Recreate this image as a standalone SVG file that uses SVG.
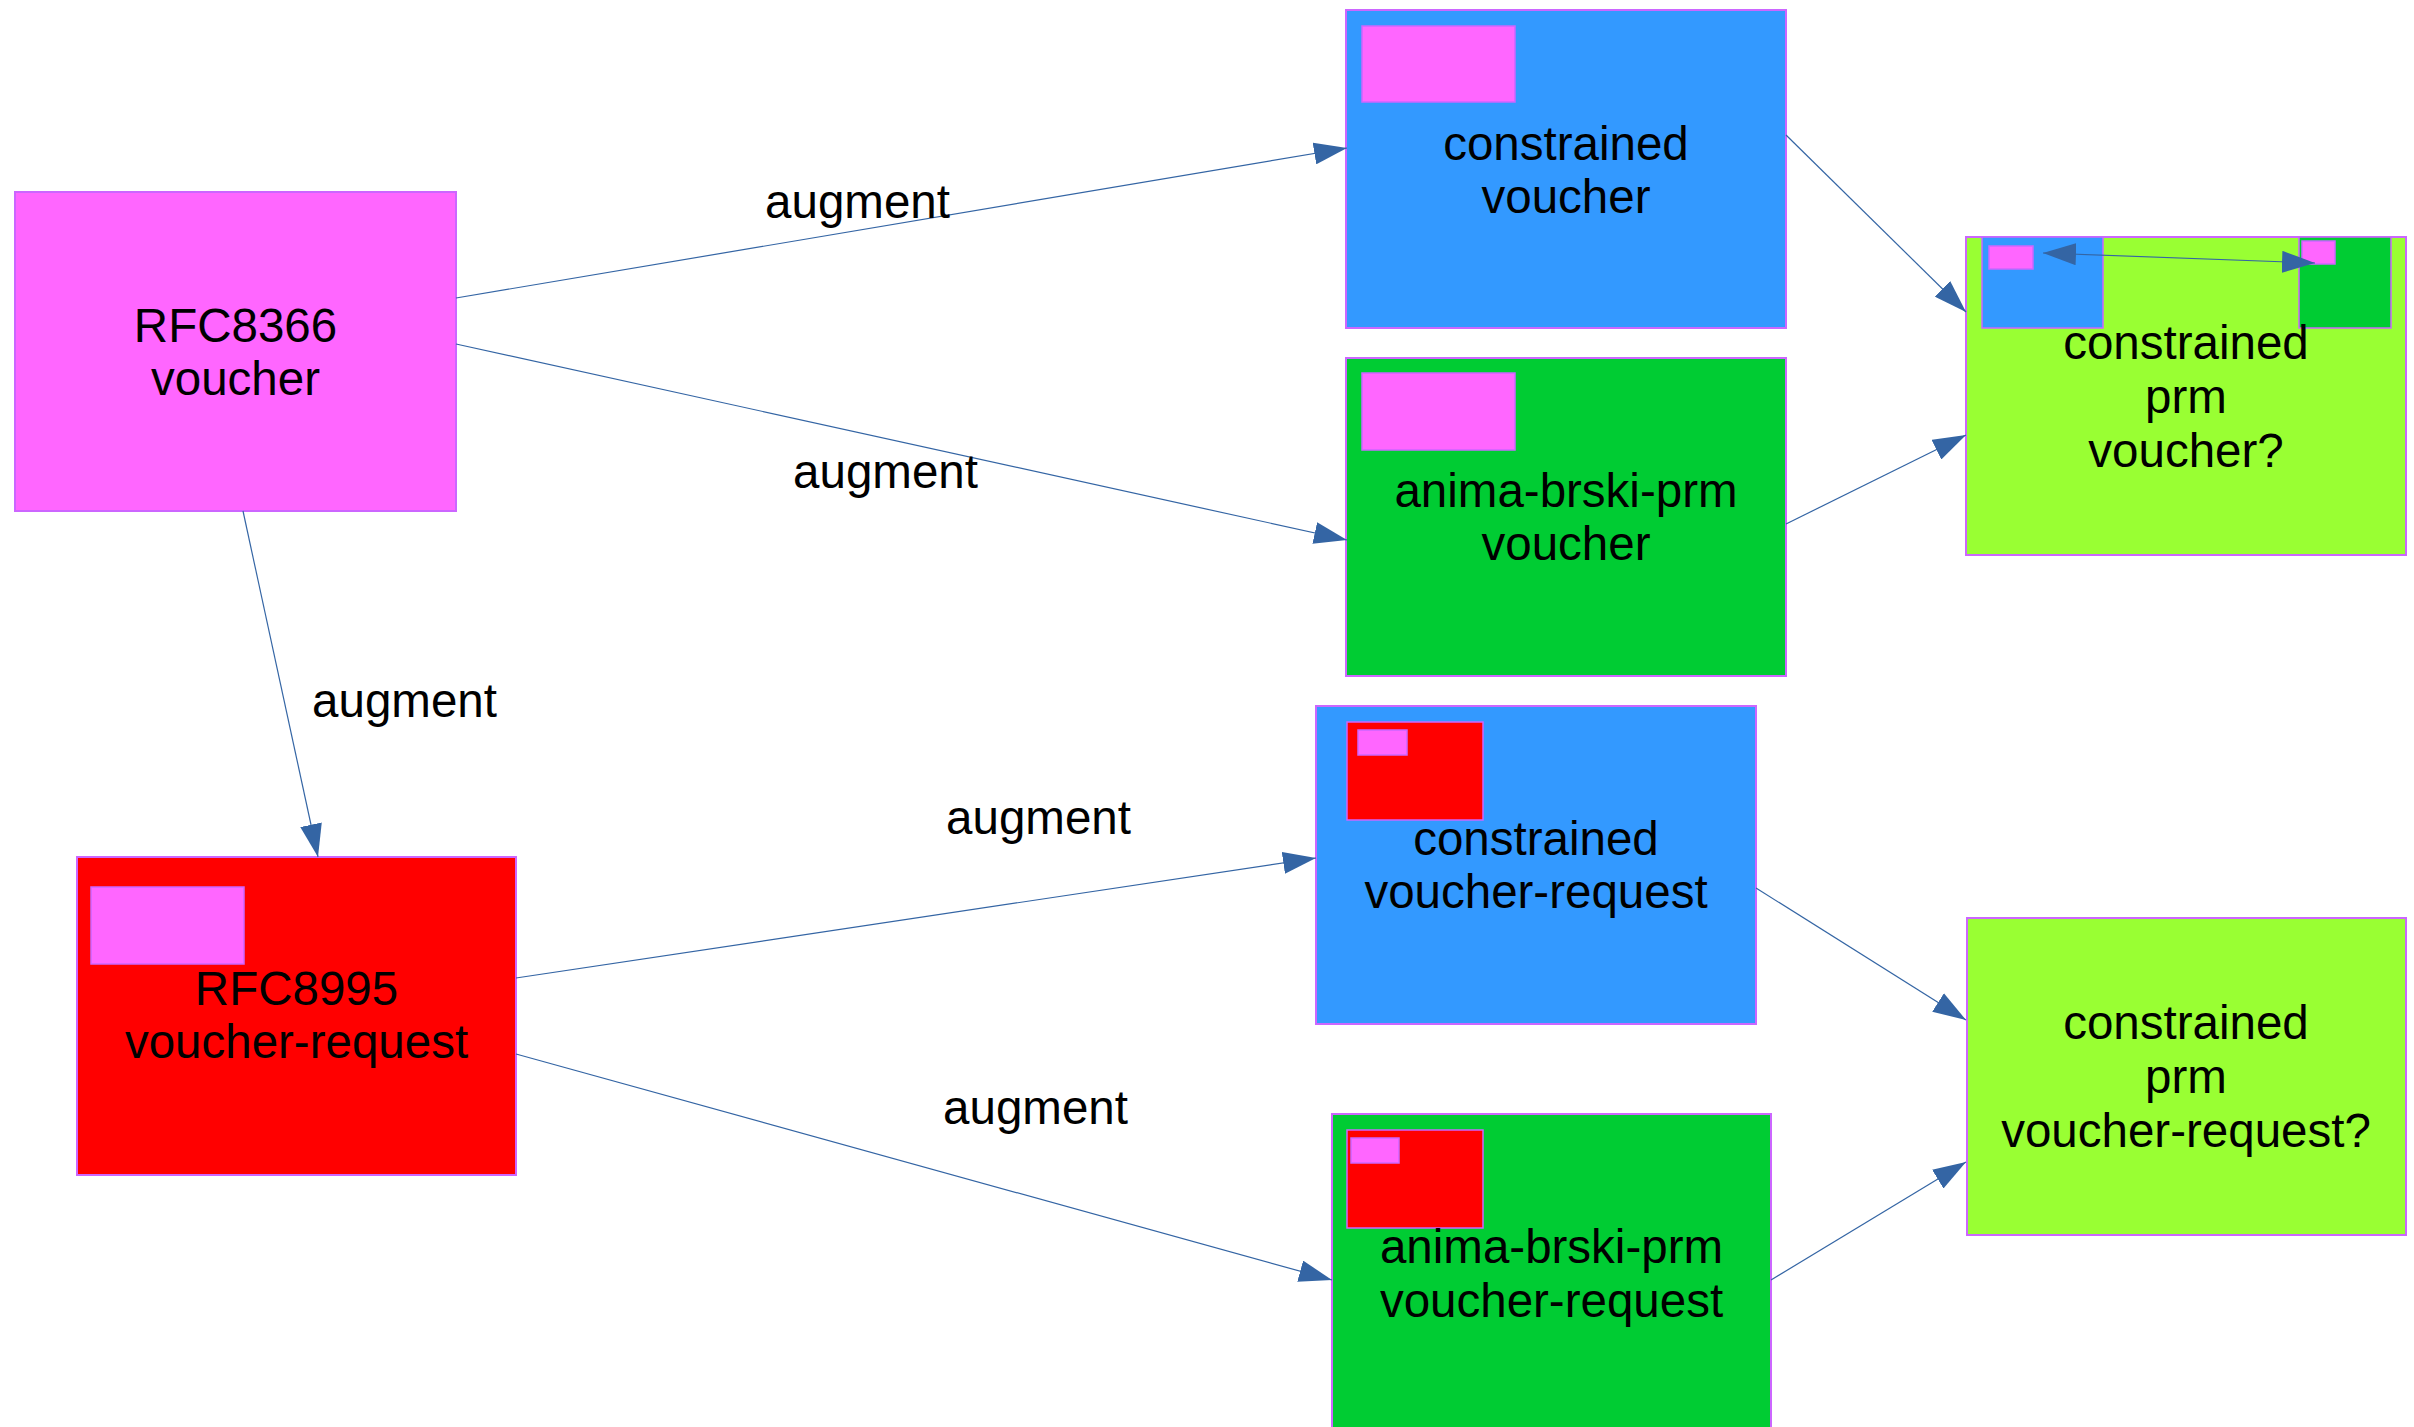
<svg xmlns="http://www.w3.org/2000/svg" width="2414" height="1427" viewBox="0 0 2414 1427">
<style>
.box{stroke:#cc66ff;stroke-width:2}
.in{stroke:#cc66ff;stroke-width:1.5}
.mag{fill:#ff66ff}.blue{fill:#3399ff}.green{fill:#00cc33}.red{fill:#ff0000}.lime{fill:#99ff33}
text{font-family:"Liberation Sans",Arial,sans-serif;font-size:47.5px;fill:#000;text-anchor:middle}
.edge{stroke:#3465a4;stroke-width:1.2;fill:none;marker-end:url(#arr)}
</style>
<defs>
<marker id="arr" markerUnits="userSpaceOnUse" markerWidth="34" markerHeight="22" refX="33" refY="11" orient="auto-start-reverse">
<path d="M0,0 L33,11 L0,22 z" fill="#3465a4"/>
</marker>
</defs>
<rect width="2414" height="1427" fill="#fff"/>
<g id="rfc8366">
<rect class="box mag" x="15" y="192" width="441" height="319"/>
<text x="235.5" y="342">RFC8366</text>
<text x="235.5" y="395">voucher</text>
</g>
<g id="constrained-voucher">
<rect class="box blue" x="1346" y="10" width="440" height="318"/>
<rect class="in mag" x="1362" y="26" width="153" height="76"/>
<text x="1566" y="160">constrained</text>
<text x="1566" y="213">voucher</text>
</g>
<g id="anima-voucher">
<rect class="box green" x="1346" y="358" width="440" height="318"/>
<rect class="in mag" x="1362" y="373" width="153" height="77"/>
<text x="1566" y="507">anima-brski-prm</text>
<text x="1566" y="560">voucher</text>
</g>
<g id="rfc8995">
<rect class="box red" x="77" y="857" width="439" height="318"/>
<rect class="in mag" x="91" y="887" width="153" height="77"/>
<text x="296.5" y="1005">RFC8995</text>
<text x="296.5" y="1058">voucher-request</text>
</g>
<g id="constrained-vr">
<rect class="box blue" x="1316" y="706" width="440" height="318"/>
<rect class="in red" x="1347" y="722" width="136" height="98"/>
<rect class="in mag" x="1358" y="730" width="49" height="25"/>
<text x="1536" y="855">constrained</text>
<text x="1536" y="908">voucher-request</text>
</g>
<g id="anima-vr">
<rect class="box green" x="1332" y="1114" width="439" height="318"/>
<rect class="in red" x="1347" y="1130" width="136" height="98"/>
<rect class="in mag" x="1351" y="1138" width="48" height="25"/>
<text x="1551.5" y="1263">anima-brski-prm</text>
<text x="1551.5" y="1317">voucher-request</text>
</g>
<g id="constrained-prm-voucher">
<rect class="box lime" x="1966" y="237" width="440" height="318"/>
<rect class="in blue" x="1982" y="237" width="121" height="91"/>
<rect class="in mag" x="1989" y="246" width="44" height="23"/>
<rect class="in green" x="2299" y="237" width="92" height="91"/>
<rect class="in mag" x="2302" y="241" width="33" height="23"/>
<text x="2186" y="359">constrained</text>
<text x="2186" y="413">prm</text>
<text x="2186" y="467">voucher?</text>
</g>
<g id="constrained-prm-vr">
<rect class="box lime" x="1967" y="918" width="439" height="317"/>
<text x="2186" y="1039">constrained</text>
<text x="2186" y="1093">prm</text>
<text x="2186" y="1147">voucher-request?</text>
</g>
<g id="connectors">
<line class="edge" x1="456" y1="298" x2="1347" y2="148"/>
<line class="edge" x1="456" y1="344" x2="1347" y2="540"/>
<line class="edge" x1="243" y1="511" x2="318" y2="857"/>
<line class="edge" x1="516" y1="978" x2="1316" y2="858"/>
<line class="edge" x1="516" y1="1054" x2="1332" y2="1280"/>
<line class="edge" x1="1786" y1="135" x2="1966" y2="312"/>
<line class="edge" x1="1786" y1="524" x2="1966" y2="435"/>
<line class="edge" x1="1756" y1="888" x2="1966" y2="1020"/>
<line class="edge" x1="1771" y1="1280" x2="1966" y2="1162"/>
<line class="edge" x1="2043" y1="253" x2="2315" y2="263" style="marker-start:url(#arr)"/>
<text x="857.5" y="218">augment</text>
<text x="885.5" y="488">augment</text>
<text x="404.5" y="717">augment</text>
<text x="1038.5" y="834">augment</text>
<text x="1035.5" y="1124">augment</text>
</g>
</svg>
